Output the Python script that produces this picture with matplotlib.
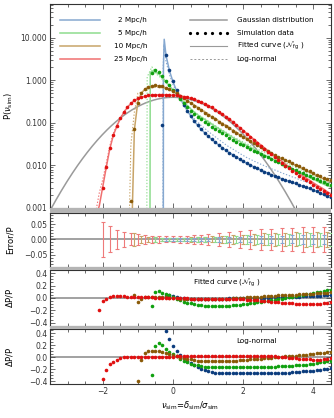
import numpy as np
import matplotlib
matplotlib.use("Agg")
import matplotlib.pyplot as plt
from matplotlib.ticker import FixedLocator, MultipleLocator, LogLocator, NullFormatter, FuncFormatter
from matplotlib.patches import Rectangle

plt.rcParams['font.family'] = ['DejaVu Sans']
plt.rcParams['font.size'] = 5.5
plt.rcParams['mathtext.fontset'] = 'dejavusans'

# ────────────────────────────────────────────────
# DATOS
# ────────────────────────────────────────────────
SERIES = ['2 Mpc/h', '5 Mpc/h', '10 Mpc/h', '25 Mpc/h']
NU_STEP = 0.1

# 2 Mpc/h
NU0_BLUE = -0.3
P_BLUE = [0.09, 4.0, 1.75, 0.95,
          0.58, 0.38, 0.27, 0.195, 0.145, 0.110, 0.087, 0.070, 0.058, 0.048,
          0.041, 0.035, 0.030, 0.026, 0.0225, 0.0198, 0.0178, 0.0158, 0.014, 0.0125,
          0.0112, 0.0102, 0.0093, 0.0085, 0.0078, 0.0072, 0.0066, 0.0061, 0.0057, 0.0053,
          0.0049, 0.0046, 0.0043, 0.0040, 0.0038, 0.0035, 0.0033, 0.0031, 0.0029, 0.0027,
          0.0025, 0.0023, 0.0021, 0.0019, 0.0018]
FIT_BLUE = [np.nan, 0.03, 0.05, 0.03,
            0.01, 0.0, -0.005, -0.01, -0.01, -0.01, -0.01, -0.01, -0.01, -0.01,
            -0.01, -0.01, -0.01, -0.01, -0.01, -0.005, -0.005, -0.005, 0.0, 0.0,
            0.0, 0.0, 0.0, 0.0, 0.005, 0.005, 0.005, 0.01, 0.01, 0.01,
            0.01, 0.015, 0.015, 0.02, 0.02, 0.02, 0.025, 0.025, 0.03, 0.03,
            0.035, 0.035, 0.04, 0.04, 0.045]
LN_BLUE = [np.nan, 0.43, 0.30, 0.19,
           0.10, 0.03, -0.02, -0.06, -0.10, -0.13, -0.17, -0.20, -0.22, -0.24,
           -0.25, -0.26, -0.265, -0.27, -0.27, -0.27, -0.27, -0.27, -0.27, -0.27,
           -0.27, -0.27, -0.27, -0.27, -0.27, -0.27, -0.27, -0.27, -0.27, -0.27,
           -0.265, -0.26, -0.26, -0.255, -0.25, -0.245, -0.24, -0.235, -0.23, -0.225,
           -0.22, -0.21, -0.205, -0.20, -0.19]
FIT_EDGE_NU_BLUE = [-0.275, -0.272, -0.25]
FIT_EDGE_P_BLUE = [0.0008, 2.0, 9.2]
LN_EDGE_NU_BLUE = [-0.285, -0.28, -0.26]
LN_EDGE_P_BLUE = [0.0008, 2.0, 7.0]

# 5 Mpc/h
NU0_GREEN = -0.6
P_GREEN = [1.45, 1.72, 1.55, 1.25, 0.98, 0.77, 0.60,
           0.47, 0.37, 0.295, 0.238, 0.195, 0.162, 0.138, 0.12, 0.106, 0.093,
           0.082, 0.072, 0.064, 0.057, 0.051, 0.045, 0.040, 0.036, 0.0325, 0.0295,
           0.0268, 0.0244, 0.0222, 0.0202, 0.0184, 0.0168, 0.0154, 0.0141, 0.0129, 0.0118,
           0.0108, 0.0099, 0.0091, 0.0084, 0.0077, 0.0071, 0.0065, 0.006, 0.0055, 0.0051,
           0.0047, 0.0043, 0.004, 0.0037, 0.0035]
FIT_GREEN = [-0.13, 0.10, 0.11, 0.08, 0.06, 0.04, 0.01,
             -0.02, -0.04, -0.06, -0.08, -0.09, -0.10, -0.11, -0.12, -0.125, -0.13,
             -0.13, -0.13, -0.13, -0.13, -0.13, -0.125, -0.12, -0.115, -0.11, -0.10,
             -0.095, -0.09, -0.08, -0.07, -0.06, -0.05, -0.045, -0.035, -0.03, -0.02,
             -0.01, 0.0, 0.01, 0.02, 0.03, 0.04, 0.05, 0.06, 0.07, 0.08,
             0.09, 0.10, 0.11, 0.12, 0.13]
LN_GREEN = [-0.30, 0.18, 0.23, 0.20, 0.14, 0.09, 0.05,
            0.01, -0.03, -0.06, -0.09, -0.11, -0.13, -0.14, -0.15, -0.16, -0.165,
            -0.17, -0.17, -0.17, -0.17, -0.17, -0.17, -0.17, -0.17, -0.17, -0.17,
            -0.17, -0.17, -0.17, -0.17, -0.17, -0.165, -0.165, -0.16, -0.16, -0.155,
            -0.155, -0.15, -0.15, -0.145, -0.14, -0.135, -0.13, -0.125, -0.12, -0.11,
            -0.10, -0.09, -0.08, -0.07, -0.06]
FIT_EDGE_NU_GREEN = [-0.655, -0.648]
FIT_EDGE_P_GREEN = [0.0008, 1.5]
LN_EDGE_NU_GREEN = [-0.745, -0.735]
LN_EDGE_P_GREEN = [0.0008, 1.2]

# 10 Mpc/h
NU0_BROWN = -1.2
P_BROWN = [0.0015, 0.072, 0.30, 0.50, 0.62, 0.70, 0.745, 0.76, 0.75, 0.72, 0.67, 0.61, 0.55,
           0.49, 0.43, 0.375, 0.33, 0.29, 0.255, 0.225, 0.198, 0.175, 0.155,
           0.137, 0.121, 0.107, 0.095, 0.084, 0.075, 0.066, 0.059, 0.052, 0.047,
           0.042, 0.037, 0.033, 0.030, 0.027, 0.024, 0.0216, 0.0194, 0.0177, 0.0162,
           0.0148, 0.0136, 0.0125, 0.0115, 0.0105, 0.0096, 0.0088, 0.0080, 0.0073, 0.0067,
           0.0061, 0.0056, 0.0052, 0.0048, 0.0045]
FIT_BROWN = [np.nan, 0.05, -0.06, -0.01, 0.01, 0.02, 0.02, 0.02, 0.015, 0.01, 0.01, 0.005, 0.0,
             -0.005, -0.01, -0.01, -0.015, -0.015, -0.02, -0.02, -0.02, -0.02, -0.02,
             -0.02, -0.02, -0.015, -0.015, -0.01, -0.01, -0.005, 0.0, 0.0, 0.005,
             0.01, 0.01, 0.015, 0.02, 0.02, 0.025, 0.03, 0.03, 0.035, 0.04,
             0.04, 0.045, 0.05, 0.05, 0.055, 0.06, 0.06, 0.065, 0.07, 0.07,
             0.075, 0.08, 0.08, 0.085, 0.09]
LN_BROWN = [np.nan, -0.6, -0.40, -0.05, 0.06, 0.10, 0.11, 0.11, 0.10, 0.09, 0.07, 0.05, 0.03,
            0.01, -0.01, -0.02, -0.03, -0.04, -0.05, -0.06, -0.065, -0.07, -0.07,
            -0.07, -0.07, -0.07, -0.07, -0.07, -0.07, -0.065, -0.06, -0.055, -0.05,
            -0.045, -0.04, -0.035, -0.03, -0.025, -0.02, -0.015, -0.01, -0.005, 0.0,
            0.005, 0.01, 0.015, 0.02, 0.025, 0.03, 0.035, 0.04, 0.045, 0.05,
            0.06, 0.065, 0.075, 0.08, 0.09]
FIT_EDGE_NU_BROWN = [-1.16]
FIT_EDGE_P_BROWN = [0.0008]
LN_EDGE_NU_BROWN = [-1.24, -1.2]
LN_EDGE_P_BROWN = [0.0008, 0.03]

# 25 Mpc/h
NU0_RED = -2.1
P_RED = [0.0009, 0.003, 0.009, 0.025, 0.052, 0.085, 0.13, 0.18, 0.235, 0.29, 0.34,
         0.38, 0.405, 0.425, 0.44, 0.45, 0.455, 0.46, 0.46, 0.455, 0.45, 0.445,
         0.44, 0.43, 0.415, 0.395, 0.375, 0.355, 0.33, 0.305, 0.28, 0.255,
         0.23, 0.205, 0.182, 0.16, 0.14, 0.121, 0.104, 0.089, 0.076, 0.065,
         0.055, 0.047, 0.040, 0.034, 0.029, 0.0248, 0.0212, 0.0181, 0.0155, 0.0133,
         0.0115, 0.0099, 0.0086, 0.0075, 0.0066, 0.0058, 0.0051, 0.0045, 0.0040, 0.0035,
         0.0031, 0.0028, 0.0025, 0.0022, 0.0020]
FIT_RED = [-0.19, -0.05, -0.01, 0.02, 0.025, 0.025, 0.025, 0.025, 0.02, 0.02, 0.02,
           0.02, 0.015, 0.015, 0.01, 0.01, 0.005, 0.0, 0.0, 0.0, 0.0, 0.0,
           0.0, 0.0, -0.005, -0.005, -0.01, -0.01, -0.01, -0.01, -0.01, -0.01,
           -0.01, -0.01, -0.01, -0.015, -0.015, -0.02, -0.02, -0.02, -0.025, -0.025,
           -0.03, -0.03, -0.035, -0.04, -0.045, -0.05, -0.055, -0.06, -0.065, -0.07,
           -0.075, -0.08, -0.085, -0.09, -0.095, -0.1, -0.1, -0.1, -0.1, -0.1,
           -0.1, -0.095, -0.09, -0.08, -0.07]
LN_RED = [-0.6, -0.36, -0.21, -0.12, -0.08, -0.05, -0.02, 0.0, 0.0, 0.005, 0.005,
          0.005, 0.005, 0.005, 0.005, 0.005, 0.005, 0.005, 0.005, 0.005, 0.005, 0.005,
          0.01, 0.01, 0.01, 0.01, 0.01, 0.01, 0.015, 0.015, 0.015, 0.015,
          0.02, 0.02, 0.02, 0.02, 0.02, 0.02, 0.02, 0.02, 0.02, 0.02,
          0.02, 0.02, 0.02, 0.02, 0.02, 0.015, 0.015, 0.01, 0.01, 0.005,
          0.0, -0.005, -0.01, -0.015, -0.02, -0.025, -0.03, -0.035, -0.04, -0.045,
          -0.05, -0.045, -0.04, -0.03, -0.01]
FIT_EDGE_NU_RED = [-2.16]
FIT_EDGE_P_RED = [0.0008]
LN_EDGE_NU_RED = [-2.2]
LN_EDGE_P_RED = [0.0008]

# Error/P
ERR_NU_RED = [-2.0, -1.8, -1.6, -1.4, -1.2, -1.0, -0.8, -0.6, -0.4, -0.2, 0.0, 0.2, 0.4, 0.6,
              0.8, 1.0, 1.3, 1.6, 1.9, 2.2, 2.5, 2.8, 3.1, 3.4, 3.7, 4.0, 4.3]
ERR_RED = [0.058, 0.043, 0.031, 0.024, 0.020, 0.017, 0.014, 0.012, 0.011, 0.010, 0.010, 0.011,
           0.012, 0.014, 0.016, 0.018, 0.021, 0.025, 0.028, 0.031, 0.034, 0.036, 0.038,
           0.039, 0.040, 0.041, 0.042]
ERR_NU_BROWN = [-1.1, -0.9, -0.7, -0.5, -0.3, -0.1, 0.1, 0.3, 0.5, 0.7, 0.9, 1.1, 1.4, 1.7,
                2.0, 2.3, 2.6, 2.9, 3.2, 3.5, 3.8, 4.1, 4.4]
ERR_BROWN = [0.022, 0.012, 0.009, 0.007, 0.006, 0.006, 0.006, 0.006, 0.007, 0.008, 0.009, 0.010,
             0.012, 0.014, 0.016, 0.018, 0.020, 0.021, 0.022, 0.023, 0.024, 0.025, 0.026]
ERR_NU_GREEN = [-0.5, -0.3, -0.1, 0.1, 0.3, 0.5, 0.7, 0.9, 1.2, 1.5, 1.8, 2.1, 2.4, 2.7, 3.0,
                3.3, 3.6, 3.9, 4.2, 4.5]
ERR_GREEN = [0.008, 0.005, 0.005, 0.005, 0.005, 0.006, 0.007, 0.008, 0.009, 0.011, 0.012, 0.014,
             0.015, 0.017, 0.018, 0.019, 0.020, 0.021, 0.022, 0.022]
ERR_NU_BLUE = [-0.2, 0.0, 0.2, 0.4, 0.6, 0.8, 1.0, 1.3, 1.6, 1.9, 2.2, 2.5, 2.8, 3.1, 3.4, 3.7,
               4.0, 4.3]
ERR_BLUE = [0.004, 0.004, 0.004, 0.005, 0.005, 0.006, 0.006, 0.007, 0.008, 0.009, 0.010, 0.011,
            0.012, 0.012, 0.013, 0.014, 0.014, 0.015]

# ────────────────────────────────────────────────
# ESTILO
# ────────────────────────────────────────────────
DOT_COLORS = ['#0b3c7d', '#10a010', '#8a5a08', '#e01010']
LINE_COLORS = ['#86a8d0', '#8edc8e', '#c8a468', '#f07070']
GRAY = '#9a9a9a'

series = [
    (NU0_BLUE, P_BLUE, FIT_BLUE, LN_BLUE, FIT_EDGE_NU_BLUE, FIT_EDGE_P_BLUE, LN_EDGE_NU_BLUE, LN_EDGE_P_BLUE),
    (NU0_GREEN, P_GREEN, FIT_GREEN, LN_GREEN, FIT_EDGE_NU_GREEN, FIT_EDGE_P_GREEN, LN_EDGE_NU_GREEN, LN_EDGE_P_GREEN),
    (NU0_BROWN, P_BROWN, FIT_BROWN, LN_BROWN, FIT_EDGE_NU_BROWN, FIT_EDGE_P_BROWN, LN_EDGE_NU_BROWN, LN_EDGE_P_BROWN),
    (NU0_RED, P_RED, FIT_RED, LN_RED, FIT_EDGE_NU_RED, FIT_EDGE_P_RED, LN_EDGE_NU_RED, LN_EDGE_P_RED),
]
errs = [(ERR_NU_BLUE, ERR_BLUE), (ERR_NU_GREEN, ERR_GREEN), (ERR_NU_BROWN, ERR_BROWN), (ERR_NU_RED, ERR_RED)]

fig = plt.figure(figsize=(3.34, 4.18), dpi=100)
L, W = 0.150, 0.841
ax0 = fig.add_axes([L, 0.5024, W, 0.488])
ax1 = fig.add_axes([L, 0.362, W, 0.129])
ax2 = fig.add_axes([L, 0.2208, W, 0.133])
ax3 = fig.add_axes([L, 0.0813, W, 0.131])

# bandas grises entre paneles
for y0, h in [(0.491, 0.0114), (0.354, 0.008), (0.2122, 0.0086)]:
    fig.patches.append(Rectangle((L, y0), W, h, transform=fig.transFigure,
                                 facecolor='#b4b4b4', edgecolor='none'))


def estilo(ax):
    ax.set_xlim(-3.5, 4.5)
    ax.xaxis.set_major_locator(FixedLocator([-2, 0, 2, 4]))
    ax.xaxis.set_minor_locator(MultipleLocator(0.5))
    ax.tick_params(which='both', direction='in', top=True, right=True, width=0.5,
                   labelsize=5.5, pad=2, colors='#333333')
    ax.tick_params(which='major', length=3.5)
    ax.tick_params(which='minor', length=2.2)
    for s in ax.spines.values():
        s.set_linewidth(0.8)
        s.set_color('#333333')
    ax.yaxis.set_label_coords(-0.125, 0.5)


# ── panel principal
ax = ax0
nu_g = np.linspace(-3.5, 4.5, 400)
ax.plot(nu_g, np.exp(-nu_g ** 2 / 2) / np.sqrt(2 * np.pi), color=GRAY, lw=1.1, zorder=2)
for i, (nu0, p, rf, rl, fen, fep, len_, lep) in enumerate(series):
    p = np.array(p)
    nu = nu0 + NU_STEP * np.arange(len(p))
    rf = np.array(rf)
    rl = np.array(rl)
    ok = ~np.isnan(rl)
    ax.plot(list(len_) + list(nu[ok]), list(lep) + list(p[ok] / (1 + rl[ok])),
            color=LINE_COLORS[i], lw=0.8, ls=(0, (1.2, 1.6)), zorder=3)
    ok = ~np.isnan(rf)
    ax.plot(list(fen) + list(nu[ok]), list(fep) + list(p[ok] / (1 + rf[ok])),
            color=LINE_COLORS[i], lw=1.1, zorder=3)
    ax.plot(nu, p, 'o', color=DOT_COLORS[i], ms=2.6, mew=0, zorder=4)
ax.set_yscale('log')
ax.set_ylim(0.001, 62)
estilo(ax)
ax.yaxis.set_major_locator(FixedLocator([0.001, 0.01, 0.1, 1, 10]))
ax.yaxis.set_minor_locator(LogLocator(base=10, subs=np.arange(2, 10)))
ax.yaxis.set_major_formatter(FuncFormatter(lambda v, pos: '%.3f' % v))
ax.yaxis.set_minor_formatter(NullFormatter())
ax.set_xticklabels([])
ax.set_ylabel(r'P($\nu_{\rm sim}$)', fontsize=6)

# leyendas
ys = [0.922, 0.858, 0.796, 0.730]
for i, lab in enumerate(SERIES):
    ax.plot([0.036, 0.178], [ys[i]] * 2, color=LINE_COLORS[i], lw=1.1, transform=ax.transAxes)
    ax.text(0.345, ys[i], lab, transform=ax.transAxes, ha='right', va='center', fontsize=5.2)
ax.plot([0.498, 0.630], [ys[0]] * 2, color=GRAY, lw=1.1, transform=ax.transAxes)
ax.plot(np.linspace(0.498, 0.630, 6), [ys[1]] * 6, 'o', color='black', ms=2.3, mew=0,
        transform=ax.transAxes)
ax.plot([0.498, 0.630], [ys[2]] * 2, color=GRAY, lw=0.8, transform=ax.transAxes)
ax.plot([0.498, 0.630], [ys[3]] * 2, color=GRAY, lw=0.7, ls=(0, (2, 2)), transform=ax.transAxes)
leg_txt = ['Gaussian distribution', 'Simulation data', r'Fitted curve ($\mathcal{N}_{\rm fg}$ )', 'Log-normal']
for y, t in zip(ys, leg_txt):
    ax.text(0.664, y, t, transform=ax.transAxes, ha='left', va='center', fontsize=5.2)

# ── panel Error/P
ax = ax1
ax.axhline(0, color=GRAY, lw=1.3, zorder=1)
ecol = [LINE_COLORS[0], LINE_COLORS[1], LINE_COLORS[2], '#ee7a7a']
for i in [3, 2, 1, 0]:
    enu, e = errs[i]
    ax.errorbar(enu, np.zeros(len(enu)), yerr=e, fmt='none', ecolor=ecol[i],
                elinewidth=0.8, capsize=1.4, capthick=0.8, zorder=2 + (3 - i))
ax.set_ylim(-0.09, 0.088)
estilo(ax)
ax.yaxis.set_major_locator(FixedLocator([-0.05, 0.0, 0.05]))
ax.yaxis.set_minor_locator(MultipleLocator(0.01))
ax.yaxis.set_major_formatter(FuncFormatter(lambda v, pos: ('%.2f' % v).replace('-', '\u2212')))
ax.set_xticklabels([])
ax.set_ylabel('Error/P', fontsize=6)

# ── paneles de residuos
for ax, idx, lab, pos in [(ax2, 2, r'Fitted curve ($\mathcal{N}_{\rm fg}$ )', (0.509, 0.772)),
                          (ax3, 3, 'Log-normal', (0.664, 0.786))]:
    ax.axhline(0, color=GRAY, lw=1.3, zorder=1)
    for i, s in enumerate(series):
        nu0, p, r = s[0], s[1], np.array(s[idx])
        nu = nu0 + NU_STEP * np.arange(len(p))
        ax.plot(nu, r, 'o', color=DOT_COLORS[i], ms=2.6, mew=0, zorder=3)
    ax.set_ylim(-0.45, 0.45 if idx == 2 else 0.465)
    estilo(ax)
    ax.yaxis.set_major_locator(FixedLocator([-0.4, -0.2, 0.0, 0.2, 0.4]))
    ax.yaxis.set_minor_locator(MultipleLocator(0.05))
    ax.yaxis.set_major_formatter(FuncFormatter(lambda v, pos: ('%.1f' % v).replace('-', '\u2212')))
    ax.set_ylabel(r'$\Delta$P/P', fontsize=6)
    ax.text(pos[0], pos[1], lab, transform=ax.transAxes, ha='left', va='center', fontsize=5.2)

ax2.set_xticklabels([])
ax3.xaxis.set_major_formatter(FuncFormatter(lambda v, pos: ('%d' % v).replace('-', '\u2212')))
ax3.set_xlabel(r'$\nu_{\rm sim}$=$\delta_{\rm sim}$/$\sigma_{\rm sim}$', fontsize=6, labelpad=3)

fig.savefig('out.png', dpi=100)
